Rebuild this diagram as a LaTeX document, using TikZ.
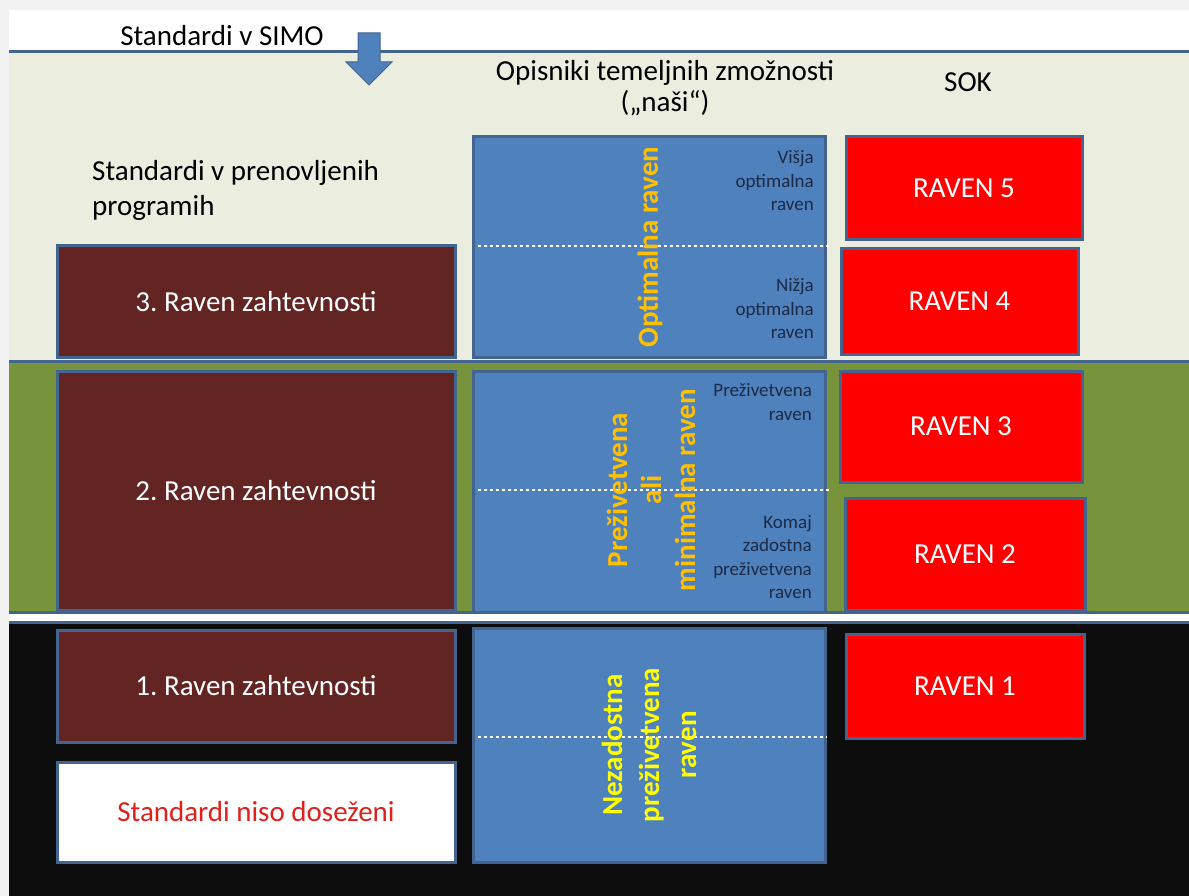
\documentclass[tikz,border=0pt]{standalone}
\usepackage{fontspec}
\setmainfont{Carlito}
\usepackage{xcolor}
\usepackage{tikz}
\usetikzlibrary{positioning}
\frenchspacing

\definecolor{bandbeige}{HTML}{EBEDDF}
\definecolor{bandgreen}{HTML}{77933C}
\definecolor{bandblack}{HTML}{0D0D0D}
\definecolor{edgeblue}{HTML}{42648F}
\definecolor{boxmaroon}{HTML}{632523}
\definecolor{boxblue}{HTML}{4F81BD}
\definecolor{boxred}{HTML}{FF0000}
\definecolor{txtorange}{HTML}{FFC000}
\definecolor{txtyellow}{HTML}{FFFF00}
\definecolor{txtnavy}{HTML}{1B2A47}
\definecolor{txtred}{HTML}{E0201C}

\begin{document}
\begin{tikzpicture}[
    x=1pt, y=-1pt,
    every node/.style={font=\fontsize{29}{35}\selectfont, inner sep=0pt},
    lvl/.style={draw=edgeblue, line width=3pt, fill=boxmaroon, text=white, minimum width=398pt},
    desc/.style={draw=edgeblue, line width=3pt, fill=boxblue, minimum width=352pt},
    sok/.style={draw=edgeblue, line width=3pt, fill=boxred, text=white},
    note/.style={anchor=east, align=right, text=txtnavy, font=\fontsize{19}{23.5}\selectfont},
    tag/.style={rotate=90, align=center, font=\bfseries\fontsize{29}{34}\selectfont},
    sep/.style={draw=white, line width=2.5pt, dash pattern=on 3pt off 3pt},
    band/.style={draw=edgeblue, line width=3pt}]

    % page and bands
    \useasboundingbox (0,0) rectangle (1189,896);
    \fill[black!5] (0,0) rectangle (1189,896);
    \fill[white] (9,10) rectangle (1189,896);
    \fill[bandbeige] (9,52) rectangle (1189,361);
    \fill[bandgreen] (9,361) rectangle (1189,612);
    \fill[bandblack] (9,622) rectangle (1189,896);
    \draw[band] (9,52) -- (1189,52);
    \draw[band] (9,361) -- (1189,361);
    \draw[band] (9,612) -- (1189,612);
    \draw[band] (9,622) -- (1189,622);

    % headings
    \node (simo) at (222,36) {Standardi v SIMO};
    \fill[boxblue, draw=edgeblue, line width=1pt] (358,33) -- (380,33) -- (380,62) -- (392,62)
        -- (369,85) -- (346,62) -- (358,62) -- cycle;
    \node[align=center, font=\fontsize{29}{31}\selectfont] (opis) at (665,88)
        {Opisniki temeljnih zmožnosti\\(„naši“)};
    \node (sok) at (968,82) {SOK};
    \node[anchor=west, align=left] (prenov) at (92,190) {Standardi v prenovljenih\\programih};

    % left column
    \node[lvl, minimum height=111pt] (z3) at (256,301.5) {3. Raven zahtevnosti};
    \node[lvl, minimum height=239pt] (z2) at (256,490.5) {2. Raven zahtevnosti};
    \node[lvl, minimum height=112pt] (z1) at (256,686) {1. Raven zahtevnosti};
    \node[lvl, minimum height=100pt, fill=white, text=txtred] (niso) at (256,812)
        {Standardi niso doseženi};

    % middle column
    \node[desc, minimum height=220pt] (opt) at (649,247) {};
    \node[desc, minimum height=241pt] (min) at (649,491.5) {};
    \node[desc, minimum height=234pt] (nez) at (649,745) {};
    \draw[sep] (478,246) -- (829,246);
    \draw[sep] (478,490) -- (829,490);
    \draw[sep] (478,737) -- (827,737);

    \node[note] (visja) at (814,181) {Višja\\optimalna\\raven};
    \node[note] (nizja) at (814,309) {Nižja\\optimalna\\raven};
    \node[note] (prez) at (812,402) {Preživetvena\\raven};
    \node[note] (komaj) at (812,557) {Komaj\\zadostna\\preživetvena\\raven};

    \node[tag, text=txtorange] (optimal) at (650,247) {Optimalna raven};
    \node[tag, text=txtorange] (minimal) at (651,490) {Preživetvena\\ali\\minimalna raven};
    \node[tag, text=txtyellow, font=\bfseries\fontsize{29}{37}\selectfont] (nezad) at (649,745)
        {Nezadostna\\preživetvena\\raven};

    % right column
    \node[sok, minimum width=236pt, minimum height=103pt] (r5) at (964,188.5) {RAVEN 5};
    \node[sok, minimum width=237pt, minimum height=105pt] (r4) at (959.5,301.5) {RAVEN 4};
    \node[sok, minimum width=242pt, minimum height=111pt] (r3) at (961,426.5) {RAVEN 3};
    \node[sok, minimum width=240pt, minimum height=112pt] (r2) at (965,554) {RAVEN 2};
    \node[sok, minimum width=238pt, minimum height=104pt] (r1) at (965,686) {RAVEN 1};

\end{tikzpicture}
\end{document}
